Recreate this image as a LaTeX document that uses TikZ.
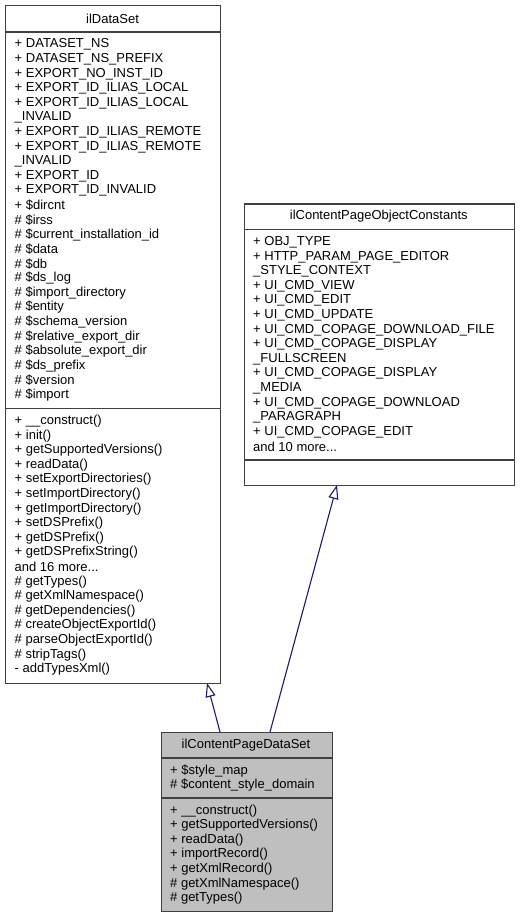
\documentclass[tikz,border=0pt]{standalone}
\usepackage{fontspec}
\setmainfont{Liberation Sans}
\usetikzlibrary{arrows.meta}
\definecolor{edgeblue}{HTML}{191970}
\definecolor{boxline}{HTML}{404040}
\definecolor{boxfill}{HTML}{BFBFBF}
\newcommand\mydots{...}
\begin{document}
\begin{tikzpicture}[x=1pt,y=-1pt,
  classbox/.style={draw=boxline, line width=1.2pt, inner sep=0pt, anchor=north west},
  sepline/.style={draw=boxline, line width=1.2pt},
  txt/.style={anchor=west, inner sep=0pt, font=\fontsize{13}{14.6}\selectfont},
  ttl/.style={anchor=center, inner sep=0pt, font=\fontsize{13}{14.6}\selectfont},
  inherit/.style={draw=edgeblue, line width=1.1pt, -{Triangle[open, length=14pt, width=10pt]}}]
\useasboundingbox[fill=white] (0,0) rectangle (520,917);

% ilDataSet
\node[classbox, minimum width=215pt, minimum height=678pt] (ds) at (5,5) {};
\draw[sepline] (5,32) -- (220,32);
\draw[sepline] (5,408.5) -- (220,408.5);
\node[ttl] (dst) at (112.5,18.5) {ilDataSet};
\foreach \t [count=\i] in {+ DATASET\_NS, + DATASET\_NS\_PREFIX, + EXPORT\_NO\_INST\_ID,
  + EXPORT\_ID\_ILIAS\_LOCAL, + EXPORT\_ID\_ILIAS\_LOCAL, \_INVALID,
  + EXPORT\_ID\_ILIAS\_REMOTE, + EXPORT\_ID\_ILIAS\_REMOTE, \_INVALID,
  + EXPORT\_ID, + EXPORT\_ID\_INVALID, + \$dircnt, \# \$irss,
  \# \$current\_installation\_id, \# \$data, \# \$db, \# \$ds\_log,
  \# \$import\_directory, \# \$entity, \# \$schema\_version,
  \# \$relative\_export\_dir, \# \$absolute\_export\_dir, \# \$ds\_prefix,
  \# \$version, \# \$import}
  \node[txt] (dsa\i) at (14.5, 30.1+14.6*\i) {\t};
\foreach \t [count=\i] in {+ \_\_construct(), + init(), + getSupportedVersions(),
  + readData(), + setExportDirectories(), + setImportDirectory(),
  + getImportDirectory(), + setDSPrefix(), + getDSPrefix(), + getDSPrefixString(),
  and 16 more\mydots, \# getTypes(), \# getXmlNamespace(), \# getDependencies(),
  \# createObjectExportId(), \# parseObjectExportId(), \# stripTags(),
  - addTypesXml()}
  \node[txt] (dsm\i) at (14.5, 406.6+14.6*\i) {\t};

% ilContentPageObjectConstants
\node[classbox, minimum width=270.5pt, minimum height=281.5pt] (poc) at (243.5,203.5) {};
\draw[sepline] (243.5,229.5) -- (514,229.5);
\draw[sepline] (243.5,460) -- (514,460);
\node[ttl] (poct) at (378.75,216.5) {ilContentPageObjectConstants};
\foreach \t [count=\i] in {+ OBJ\_TYPE, + HTTP\_PARAM\_PAGE\_EDITOR, \_STYLE\_CONTEXT,
  + UI\_CMD\_VIEW, + UI\_CMD\_EDIT, + UI\_CMD\_UPDATE, + UI\_CMD\_COPAGE\_DOWNLOAD\_FILE,
  + UI\_CMD\_COPAGE\_DISPLAY, \_FULLSCREEN, + UI\_CMD\_COPAGE\_DISPLAY, \_MEDIA,
  + UI\_CMD\_COPAGE\_DOWNLOAD, \_PARAGRAPH, + UI\_CMD\_COPAGE\_EDIT, and 10 more\mydots}
  \node[txt] (poca\i) at (253, 227.6+14.6*\i) {\t};

% ilContentPageDataSet
\node[classbox, fill=boxfill, minimum width=171pt, minimum height=179pt] (cpds) at (160.5,732) {};
\draw[sepline] (160.5,758) -- (331.5,758);
\draw[sepline] (160.5,798) -- (331.5,798);
\node[ttl] (cpdst) at (246,745) {ilContentPageDataSet};
\foreach \t [count=\i] in {+ \$style\_map, \# \$content\_style\_domain}
  \node[txt] (cpdsa\i) at (170, 756.1+14.6*\i) {\t};
\foreach \t [count=\i] in {+ \_\_construct(), + getSupportedVersions(), + readData(),
  + importRecord(), + getXmlRecord(), \# getXmlNamespace(), \# getTypes()}
  \node[txt] (cpdsm\i) at (170, 796.1+14.6*\i) {\t};

% inheritance edges
\coordinate (e1s) at (220,732);
\coordinate (e1t) at (207,683);
\coordinate (e2s) at (270,732);
\coordinate (e2t) at (337,485);
\draw[inherit] (e1s) -- (e1t);
\draw[inherit] (e2s) -- (e2t);
\end{tikzpicture}
\end{document}
